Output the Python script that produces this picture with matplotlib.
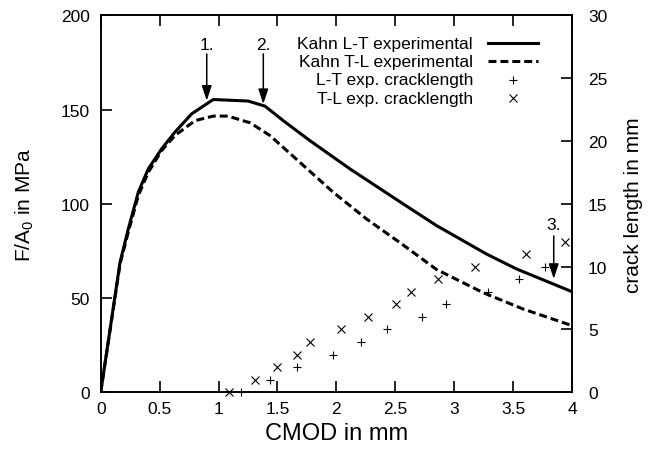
import numpy as np
import matplotlib.pyplot as plt

plt.rcParams['font.family'] = ['Liberation Sans', 'DejaVu Sans']
plt.rcParams['mathtext.fontset'] = 'custom'
plt.rcParams['mathtext.rm'] = 'Liberation Sans'

# force curves (CMOD in mm, F/A0 in MPa)
cmod_lt = [0, 0.164, 0.234, 0.319, 0.404, 0.517, 0.630, 0.772, 0.955, 1.25,
           1.394, 1.549, 1.775, 2.115, 2.567, 2.85, 3.274, 3.528, 4.0]
force_lt = [0, 69.0, 86.7, 106.2, 118.6, 129.2, 138.1, 147.8, 155.4, 154.6,
            151.9, 144.2, 133.6, 118.6, 100.0, 88.5, 73.4, 65.5, 53.4]

cmod_tl = [0, 0.164, 0.234, 0.319, 0.404, 0.517, 0.63, 0.80, 0.955, 1.08,
           1.27, 1.436, 1.69, 1.973, 2.256, 2.538, 2.85, 3.245, 3.585, 4.0]
force_tl = [0, 68.0, 85.0, 104.4, 116.8, 128.3, 136.3, 144.2, 146.6, 146.6,
            143.0, 136.3, 122.1, 106.2, 92.0, 79.5, 65.2, 52.9, 44.2, 35.4]

# crack length measurements (CMOD in mm, crack length in mm)
crack_cmod_lt = [1.19, 1.44, 1.67, 1.97, 2.21, 2.43, 2.73, 2.93, 3.29, 3.55, 3.77]
crack_lt = [0, 1, 2, 3, 4, 5, 6, 7, 8, 9, 10]
crack_cmod_tl = [1.09, 1.31, 1.50, 1.67, 1.78, 2.04, 2.27, 2.51, 2.63, 2.86,
                 3.18, 3.61, 3.94]
crack_tl = [0, 1, 2, 3, 4, 5, 6, 7, 8, 9, 10, 11, 12]

xticks = [0, 0.5, 1, 1.5, 2, 2.5, 3, 3.5, 4]
xtick_labels = ['0', '0.5', '1', '1.5', '2', '2.5', '3', '3.5', '4']
yticks = [0, 50, 100, 150, 200]
y2ticks = [0, 5, 10, 15, 20, 25, 30]

arrow_x = [0.90, 1.38, 3.845]
arrow_top = [179.6, 179.6, 83.0]
arrow_tip = [154.8, 153.0, 60.2]
arrow_text = ['1.', '2.', '3.']
arrow_text_y = [182.0, 182.0, 86.7]

legend_labels = ['Kahn L-T experimental', 'Kahn T-L experimental',
                 'L-T exp. cracklength', 'T-L exp. cracklength']

dash = (0, (2.6, 1.3))

fig = plt.figure(figsize=(6.48, 4.52), dpi=100)
ax = fig.add_axes([0.1554, 0.1299, 0.7273, 0.8336])
ax2 = ax.twinx()

ax.plot(cmod_lt, force_lt, color='black', lw=2.2)
ax.plot(cmod_tl, force_tl, color='black', lw=2.2, linestyle=dash)
ax2.plot(crack_cmod_lt, crack_lt, linestyle='none', marker='+', color='black',
         ms=6, mew=0.8, clip_on=False)
ax2.plot(crack_cmod_tl, crack_tl, linestyle='none', marker='x', color='black',
         ms=5.5, mew=0.8, clip_on=False)

for x, top, tip, lab, ty in zip(arrow_x, arrow_top, arrow_tip, arrow_text, arrow_text_y):
    ax.annotate('', xy=(x, tip), xytext=(x, top),
                arrowprops=dict(arrowstyle='-|>,head_length=0.6,head_width=0.2',
                                color='black', lw=1.1, shrinkA=0, shrinkB=0,
                                mutation_scale=15))
    ax.text(x, ty, lab, ha='center', va='baseline', fontsize=12.5)

ax.set_xlim(0, 4)
ax.set_ylim(0, 200)
ax2.set_ylim(0, 30)
ax.set_xticks(xticks)
ax.set_xticklabels(xtick_labels)
ax.set_yticks(yticks)
ax2.set_yticks(y2ticks)

ax.tick_params(direction='in', length=8, width=1.2, top=True, labelsize=12.5)
ax.tick_params(axis='x', pad=6)
ax.tick_params(axis='y', pad=8)
ax2.tick_params(direction='in', length=8, width=1.2, labelsize=12.5, pad=11.5)
for a in (ax, ax2):
    for s in a.spines.values():
        s.set_linewidth(1.2)

ax.set_xlabel('CMOD in mm', fontsize=17)
ax.set_ylabel('F/A$_\\mathregular{0}$ in MPa', fontsize=15)
ax2.set_ylabel('crack length in mm', fontsize=15)
ax.xaxis.set_label_coords(0.5, -0.08)
ax.yaxis.set_label_coords(-0.138, 0.5)
ax2.yaxis.set_label_coords(1.11, 0.5)

# key, gnuplot style: text right aligned, sample on the right
rows = [0.927, 0.878, 0.829, 0.781]
styles = [dict(lw=2.2, linestyle='-'), dict(lw=2.2, linestyle=dash),
          dict(linestyle='none', marker='+', ms=6, mew=0.8),
          dict(linestyle='none', marker='x', ms=5.5, mew=0.8)]
for lab, yy, st in zip(legend_labels, rows, styles):
    ax2.text(0.790, yy, lab, transform=ax2.transAxes, ha='right', va='center',
             fontsize=12.5)
    if st['linestyle'] == 'none':
        ax2.plot([0.874], [yy], transform=ax2.transAxes, color='black', **st)
    else:
        ax2.plot([0.821, 0.927], [yy, yy], transform=ax2.transAxes, color='black', **st)

fig.savefig('out.png', dpi=100)
plt.close(fig)
